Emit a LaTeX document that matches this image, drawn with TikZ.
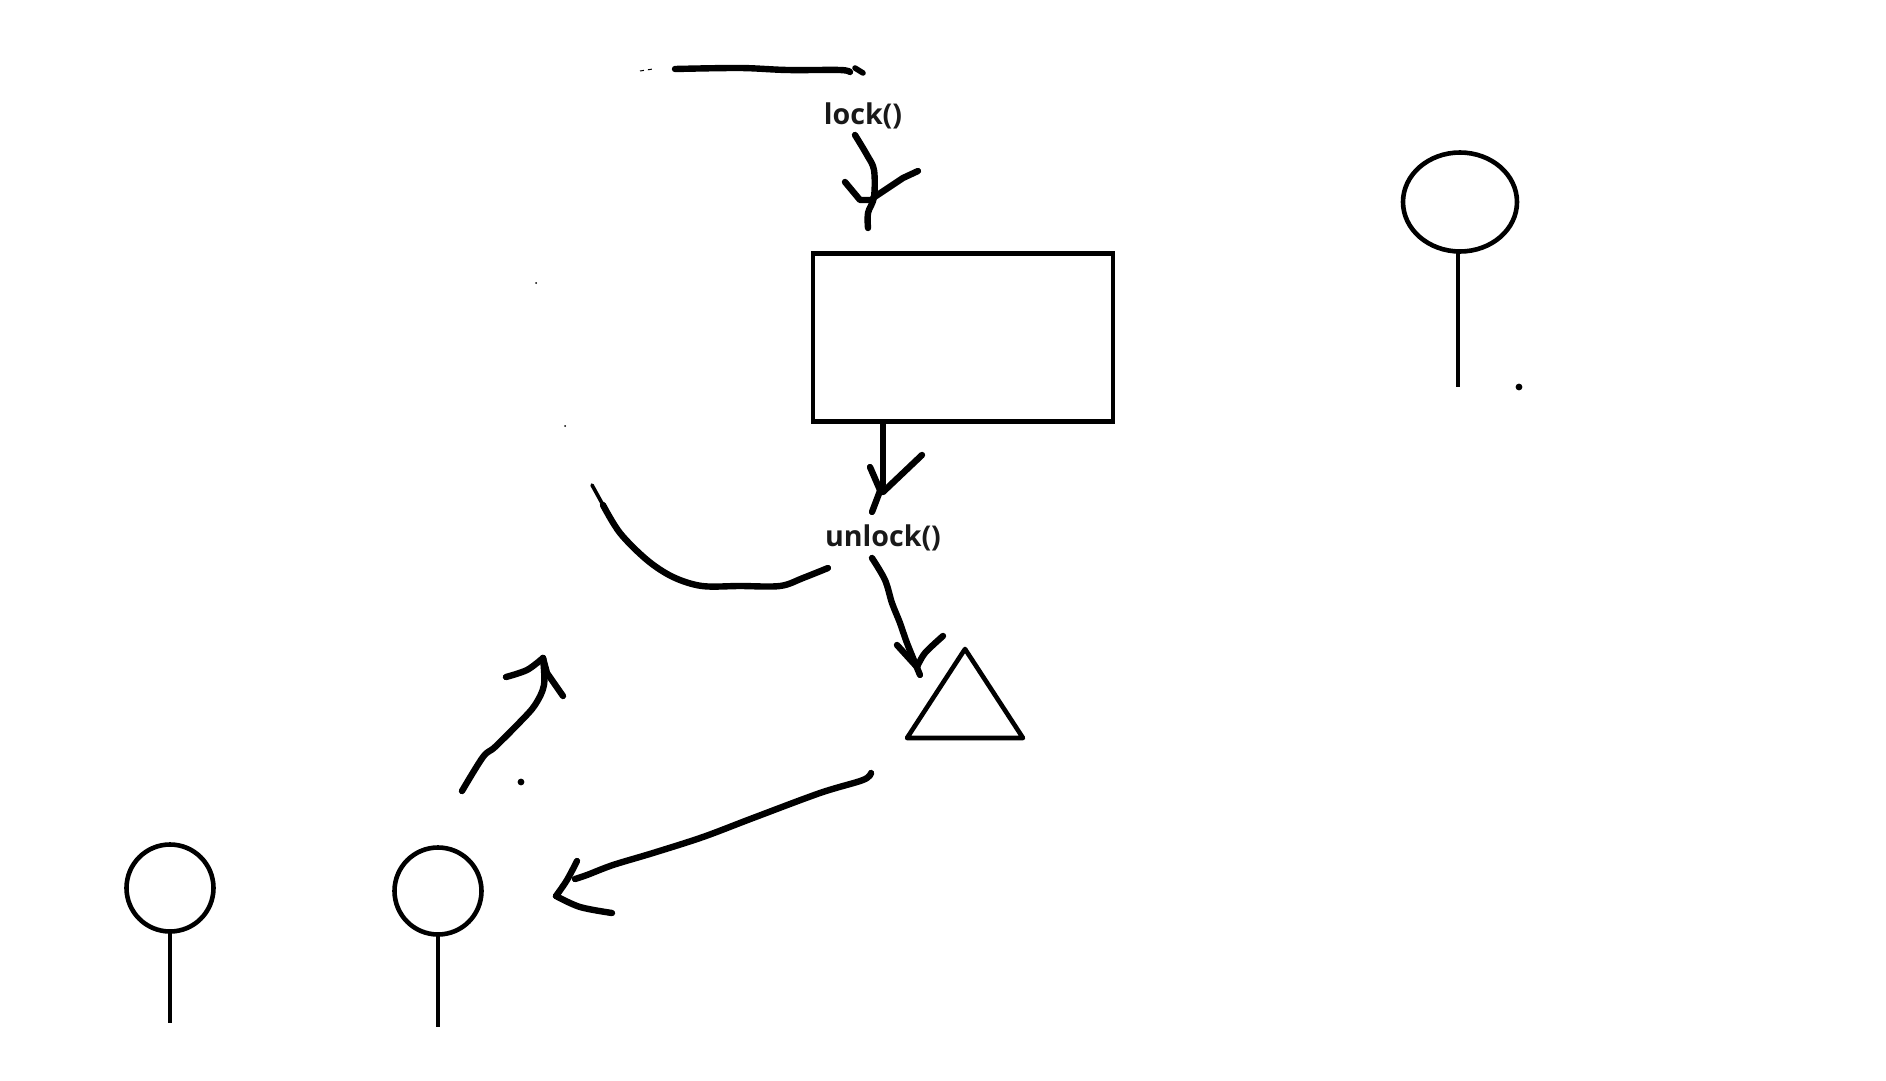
\documentclass[tikz,border=0pt]{standalone}
\usepackage{fontspec}
\setmainfont{Open Sans}
\usetikzlibrary{shapes.geometric}
\tikzset{
  outline/.style={draw=black,line width=2.3pt,inner sep=0pt,outer sep=0pt},
  head/.style={outline,circle,minimum size=87pt*0.5},
  stem/.style={line width=2.3pt},
  ink/.style={line width=3.2pt,line cap=round,line join=round},
  inkcurve/.style={smooth,tension=0.55},
  callname/.style={inner sep=0pt,text=black!90,font=\fontsize{14.3pt}{16pt}\bfseries},
  speck/.style={fill=black,circle,inner sep=0pt,minimum size=#1}
}
\begin{document}
\begin{tikzpicture}[x=0.5pt,y=-0.5pt]
\useasboundingbox (0,0) rectangle (1886,1081);

% Critical section box and lock calls
\node[outline,minimum width=150pt,minimum height=84pt] (box) at (963,337.5) {};
\node[callname] (lock) at (863,116) {lock()};
\node[callname] (unlock) at (883,538) {unlock()};

% Bucket, waiting threads
\coordinate (apex) at (965,649);
\coordinate (baseL) at (907,738);
\coordinate (baseR) at (1023,738);
\draw[line width=2.3pt,line join=round] (apex) -- (baseL) -- (baseR) -- cycle;

\node[head] (t1) at (170,888) {};
\coordinate (t1end) at (170,1023);
\draw[stem] (t1.south) -- (t1end);
\node[head] (t2) at (438,891) {};
\coordinate (t2end) at (438,1027);
\draw[stem] (t2.south) -- (t2end);
\node[outline,ellipse,minimum width=57pt,minimum height=49.5pt] (t3) at (1460,202) {};
\coordinate (t3end) at (1458,387);
\draw[stem] (t3.south -| t3end) -- (t3end);

% Remains of the erased return arc
\draw[ink] plot[inkcurve] coordinates {(675,69) (740,68) (787,70) (840,70) (850,72)};
\draw[ink,line width=2.8pt] (855,68) -- (863,73);
\draw[line width=0.5pt,dash pattern=on 2pt off 2pt] (640,71) -- (653,69);
\node[speck=1pt] (s1) at (536,283) {};
\node[speck=1pt] (s2) at (565,426) {};

% lock() down to the box
\draw[ink] plot[inkcurve] coordinates {(855,135) (867,155) (874,170) (874,197) (868,213) (868,228)};
\draw[ink] (845,182) -- (860,200) -- (873,200);
\draw[ink] (873,198) -- (903,178) -- (918,171);

% Box down to unlock()
\coordinate (tap) at (883,423);
\draw[line width=3.2pt] (tap) -- (883,483);
\draw[ink] (883,483) -- (872,512);
\draw[ink] (870,467) -- (880,490);
\draw[ink] (883,492) -- (922,455);

% unlock() round to the left
\draw[ink] plot[inkcurve] coordinates {(603,505) (620,533) (647,560) (673,577) (702,586) (740,586) (780,586) (803,578) (828,568)};
\draw[line width=1.8pt,line cap=round] (592,485) -- (603,505);

% unlock() to the bucket
\draw[ink] plot[inkcurve] coordinates {(872,558) (885,580) (892,603) (900,623) (907,643) (920,675)};
\draw[ink] (897,645) -- (917,667);
\draw[ink] plot[inkcurve] coordinates {(917,667) (925,653) (943,636)};

% Bucket to the waiting thread
\draw[ink] plot[inkcurve] coordinates {(871,773) (863,780) (820,793) (753,818) (703,837) (653,853) (613,865) (587,875) (575,879)};
\draw[ink] plot[inkcurve] coordinates {(577,861) (567,880) (556,896)};
\draw[ink] plot[inkcurve] coordinates {(556,896) (580,907) (612,913)};

% Waiting thread up towards the lock
\draw[ink] plot[inkcurve] coordinates {(462,791) (483,757) (495,747) (520,722) (535,705) (544,685) (543,658)};
\draw[ink] plot[inkcurve] coordinates {(506,677) (527,670) (543,658)};
\draw[ink] (543,658) -- (547,673) -- (563,696);

% Stray dots
\node[speck=3.4pt] (d1) at (521,782) {};
\node[speck=3.4pt] (d2) at (1519,387) {};
\end{tikzpicture}
\end{document}
